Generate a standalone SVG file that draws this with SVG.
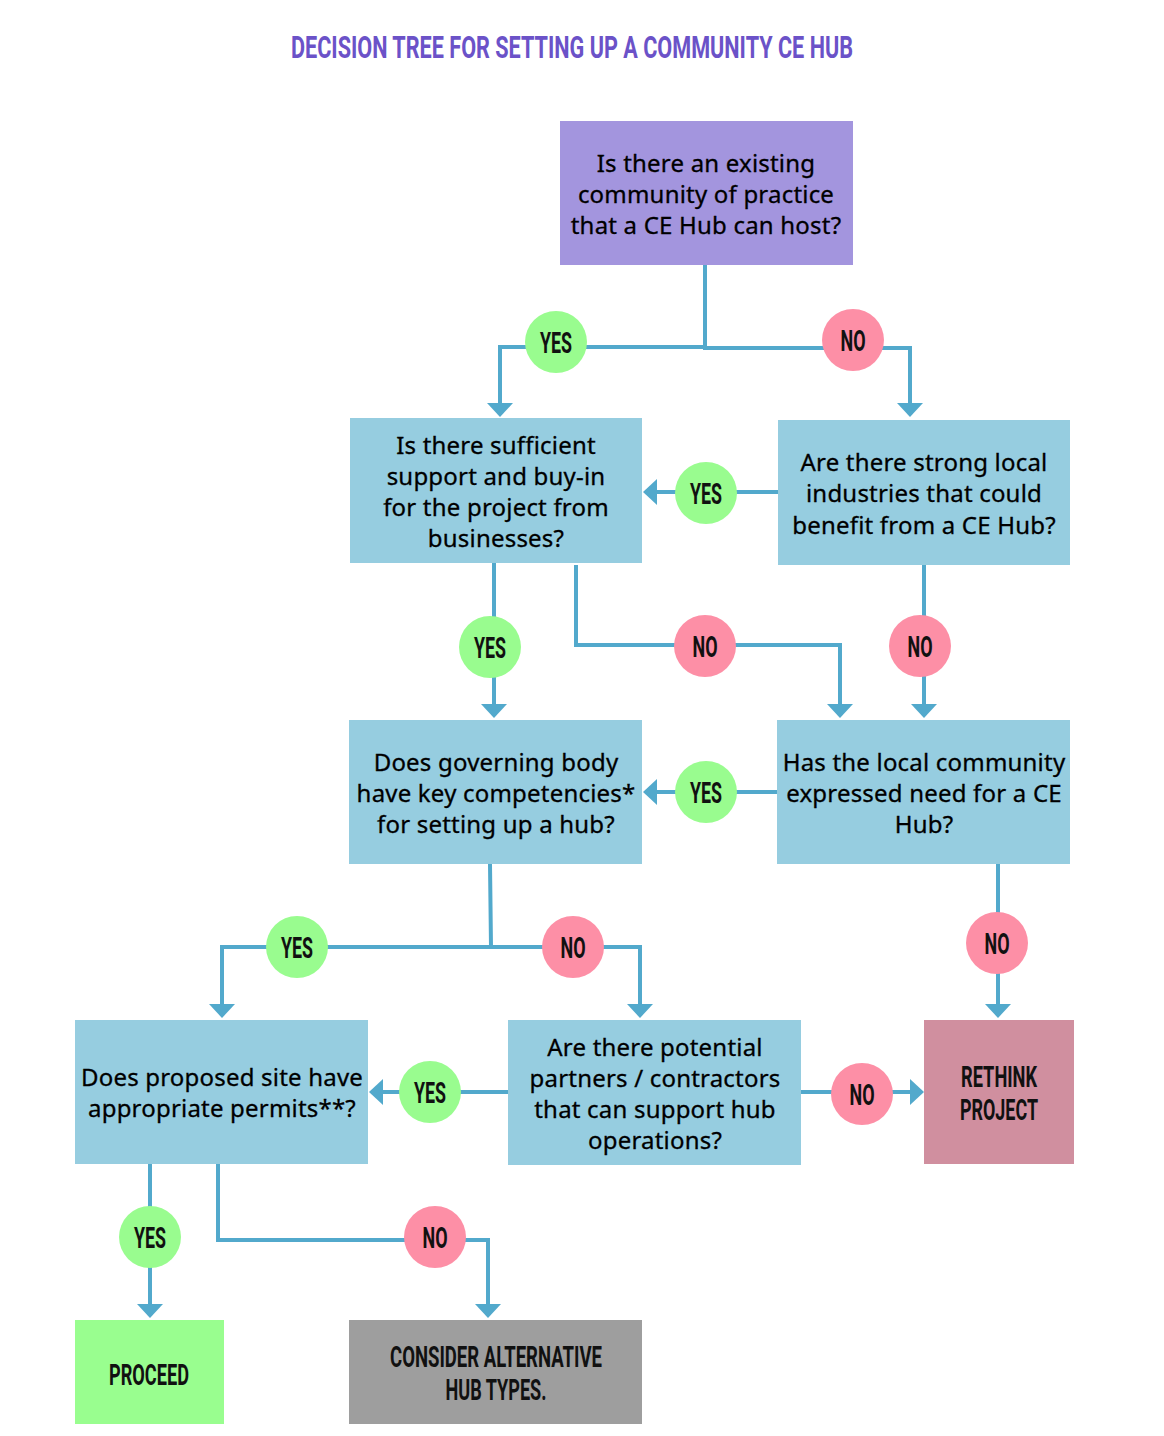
<svg xmlns="http://www.w3.org/2000/svg" width="1164" height="1436" viewBox="0 0 1164 1436">
<style>
.q{font-family:"Noto Sans","Open Sans",sans-serif;font-size:24px;letter-spacing:0.2px;fill:#000;text-anchor:middle;stroke:#000;stroke-width:0.3}
.c{font-family:Roboto,"DejaVu Sans",sans-serif;font-weight:700;text-anchor:middle;fill:#111}
.lbl{font-size:29px}
.blue{fill:#96cde0}
.yes{fill:#99fc8f}
.no{fill:#fd8fa6}
.ln{fill:none;stroke:#52a9cc;stroke-width:4}
</style>
<defs>
<marker id="ah" markerUnits="userSpaceOnUse" markerWidth="14" markerHeight="26" viewBox="0 0 14 26" refX="4" refY="13" orient="auto">
<path d="M0,0 L14,13 L0,26 z" fill="#52a9cc"/>
</marker>
</defs>
<rect width="1164" height="1436" fill="#fff"/>
<text id="title" class="c" x="572" y="58" font-size="32" style="fill:#6b52c8" textLength="562" lengthAdjust="spacingAndGlyphs">DECISION TREE FOR SETTING UP A COMMUNITY CE HUB</text>

<g id="connectors">
<polyline class="ln" points="705,265 705,347 500,347 500,407" marker-end="url(#ah)"/>
<polyline class="ln" points="705,347 705,348 910,348 910,407" marker-end="url(#ah)"/>
<polyline class="ln" points="778,492 653,492" marker-end="url(#ah)"/>
<polyline class="ln" points="494,563 494,708" marker-end="url(#ah)"/>
<polyline class="ln" points="576,565 576,645 840,645 840,708" marker-end="url(#ah)"/>
<polyline class="ln" points="924,565 924,708" marker-end="url(#ah)"/>
<polyline class="ln" points="777,792 653,792" marker-end="url(#ah)"/>
<polyline class="ln" points="490,864 491,947 222,947 222,1008" marker-end="url(#ah)"/>
<polyline class="ln" points="491,947 640,947 640,1008" marker-end="url(#ah)"/>
<polyline class="ln" points="998,864 998,1008" marker-end="url(#ah)"/>
<polyline class="ln" points="508,1092 379,1092" marker-end="url(#ah)"/>
<polyline class="ln" points="801,1092 914,1092" marker-end="url(#ah)"/>
<polyline class="ln" points="150,1164 150,1308" marker-end="url(#ah)"/>
<polyline class="ln" points="218,1164 218,1240 488,1240 488,1308" marker-end="url(#ah)"/>
</g>

<g id="labels">
<circle class="yes" cx="556" cy="342" r="31"/><text class="c lbl" x="556" y="353" textLength="32" lengthAdjust="spacingAndGlyphs">YES</text>
<circle class="no" cx="853" cy="340" r="31"/><text class="c lbl" x="853" y="351" textLength="25" lengthAdjust="spacingAndGlyphs">NO</text>
<circle class="yes" cx="706" cy="493" r="31"/><text class="c lbl" x="706" y="504" textLength="32" lengthAdjust="spacingAndGlyphs">YES</text>
<circle class="yes" cx="490" cy="647" r="31"/><text class="c lbl" x="490" y="658" textLength="32" lengthAdjust="spacingAndGlyphs">YES</text>
<circle class="no" cx="705" cy="646" r="31"/><text class="c lbl" x="705" y="657" textLength="25" lengthAdjust="spacingAndGlyphs">NO</text>
<circle class="no" cx="920" cy="646" r="31"/><text class="c lbl" x="920" y="657" textLength="25" lengthAdjust="spacingAndGlyphs">NO</text>
<circle class="yes" cx="706" cy="792" r="31"/><text class="c lbl" x="706" y="803" textLength="32" lengthAdjust="spacingAndGlyphs">YES</text>
<circle class="yes" cx="297" cy="947" r="31"/><text class="c lbl" x="297" y="958" textLength="32" lengthAdjust="spacingAndGlyphs">YES</text>
<circle class="no" cx="573" cy="947" r="31"/><text class="c lbl" x="573" y="958" textLength="25" lengthAdjust="spacingAndGlyphs">NO</text>
<circle class="no" cx="997" cy="943" r="31"/><text class="c lbl" x="997" y="954" textLength="25" lengthAdjust="spacingAndGlyphs">NO</text>
<circle class="yes" cx="430" cy="1092" r="31"/><text class="c lbl" x="430" y="1103" textLength="32" lengthAdjust="spacingAndGlyphs">YES</text>
<circle class="no" cx="862" cy="1094" r="31"/><text class="c lbl" x="862" y="1105" textLength="25" lengthAdjust="spacingAndGlyphs">NO</text>
<circle class="yes" cx="150" cy="1237" r="31"/><text class="c lbl" x="150" y="1248" textLength="32" lengthAdjust="spacingAndGlyphs">YES</text>
<circle class="no" cx="435" cy="1237" r="31"/><text class="c lbl" x="435" y="1248" textLength="25" lengthAdjust="spacingAndGlyphs">NO</text>
</g>

<g id="n1">
<rect x="560" y="121" width="293" height="144" fill="#a395de"/>
<text class="q" x="706" y="172">Is there an existing</text>
<text class="q" x="706" y="203">community of practice</text>
<text class="q" x="706" y="234">that a CE Hub can host?</text>
</g>
<g id="n2">
<rect class="blue" x="350" y="418" width="292" height="145"/>
<text class="q" x="496" y="454">Is there sufficient</text>
<text class="q" x="496" y="485">support and buy-in</text>
<text class="q" x="496" y="516">for the project from</text>
<text class="q" x="496" y="547">businesses?</text>
</g>
<g id="n3">
<rect class="blue" x="778" y="420" width="292" height="145"/>
<text class="q" x="924" y="471">Are there strong local</text>
<text class="q" x="924" y="502">industries that could</text>
<text class="q" x="924" y="534">benefit from a CE Hub?</text>
</g>
<g id="n4">
<rect class="blue" x="349" y="720" width="293" height="144"/>
<text class="q" x="496" y="771">Does governing body</text>
<text class="q" x="496" y="802">have key competencies*</text>
<text class="q" x="496" y="833">for setting up a hub?</text>
</g>
<g id="n5">
<rect class="blue" x="777" y="720" width="293" height="144"/>
<text class="q" x="924" y="771">Has the local community</text>
<text class="q" x="924" y="802">expressed need for a CE</text>
<text class="q" x="924" y="833">Hub?</text>
</g>
<g id="n6">
<rect class="blue" x="75" y="1020" width="293" height="144"/>
<text class="q" x="222" y="1086">Does proposed site have</text>
<text class="q" x="222" y="1117">appropriate permits**?</text>
</g>
<g id="n7">
<rect class="blue" x="508" y="1020" width="293" height="145"/>
<text class="q" x="655" y="1056">Are there potential</text>
<text class="q" x="655" y="1087">partners / contractors</text>
<text class="q" x="655" y="1118">that can support hub</text>
<text class="q" x="655" y="1149">operations?</text>
</g>
<g id="rethink">
<rect x="924" y="1020" width="150" height="144" fill="#d08f9f"/>
<text class="c" x="999" y="1087" font-size="30" textLength="76" lengthAdjust="spacingAndGlyphs">RETHINK</text>
<text class="c" x="999" y="1120" font-size="30" textLength="78" lengthAdjust="spacingAndGlyphs">PROJECT</text>
</g>
<g id="proceed">
<rect x="75" y="1320" width="149" height="104" fill="#99fe8f"/>
<text class="c" x="149" y="1385" font-size="30" textLength="80" lengthAdjust="spacingAndGlyphs">PROCEED</text>
</g>
<g id="consider">
<rect x="349" y="1320" width="293" height="104" fill="#9e9e9e"/>
<text class="c" x="496" y="1367" font-size="30" textLength="212" lengthAdjust="spacingAndGlyphs">CONSIDER ALTERNATIVE</text>
<text class="c" x="496" y="1400" font-size="30" textLength="101" lengthAdjust="spacingAndGlyphs">HUB TYPES.</text>
</g>
</svg>
